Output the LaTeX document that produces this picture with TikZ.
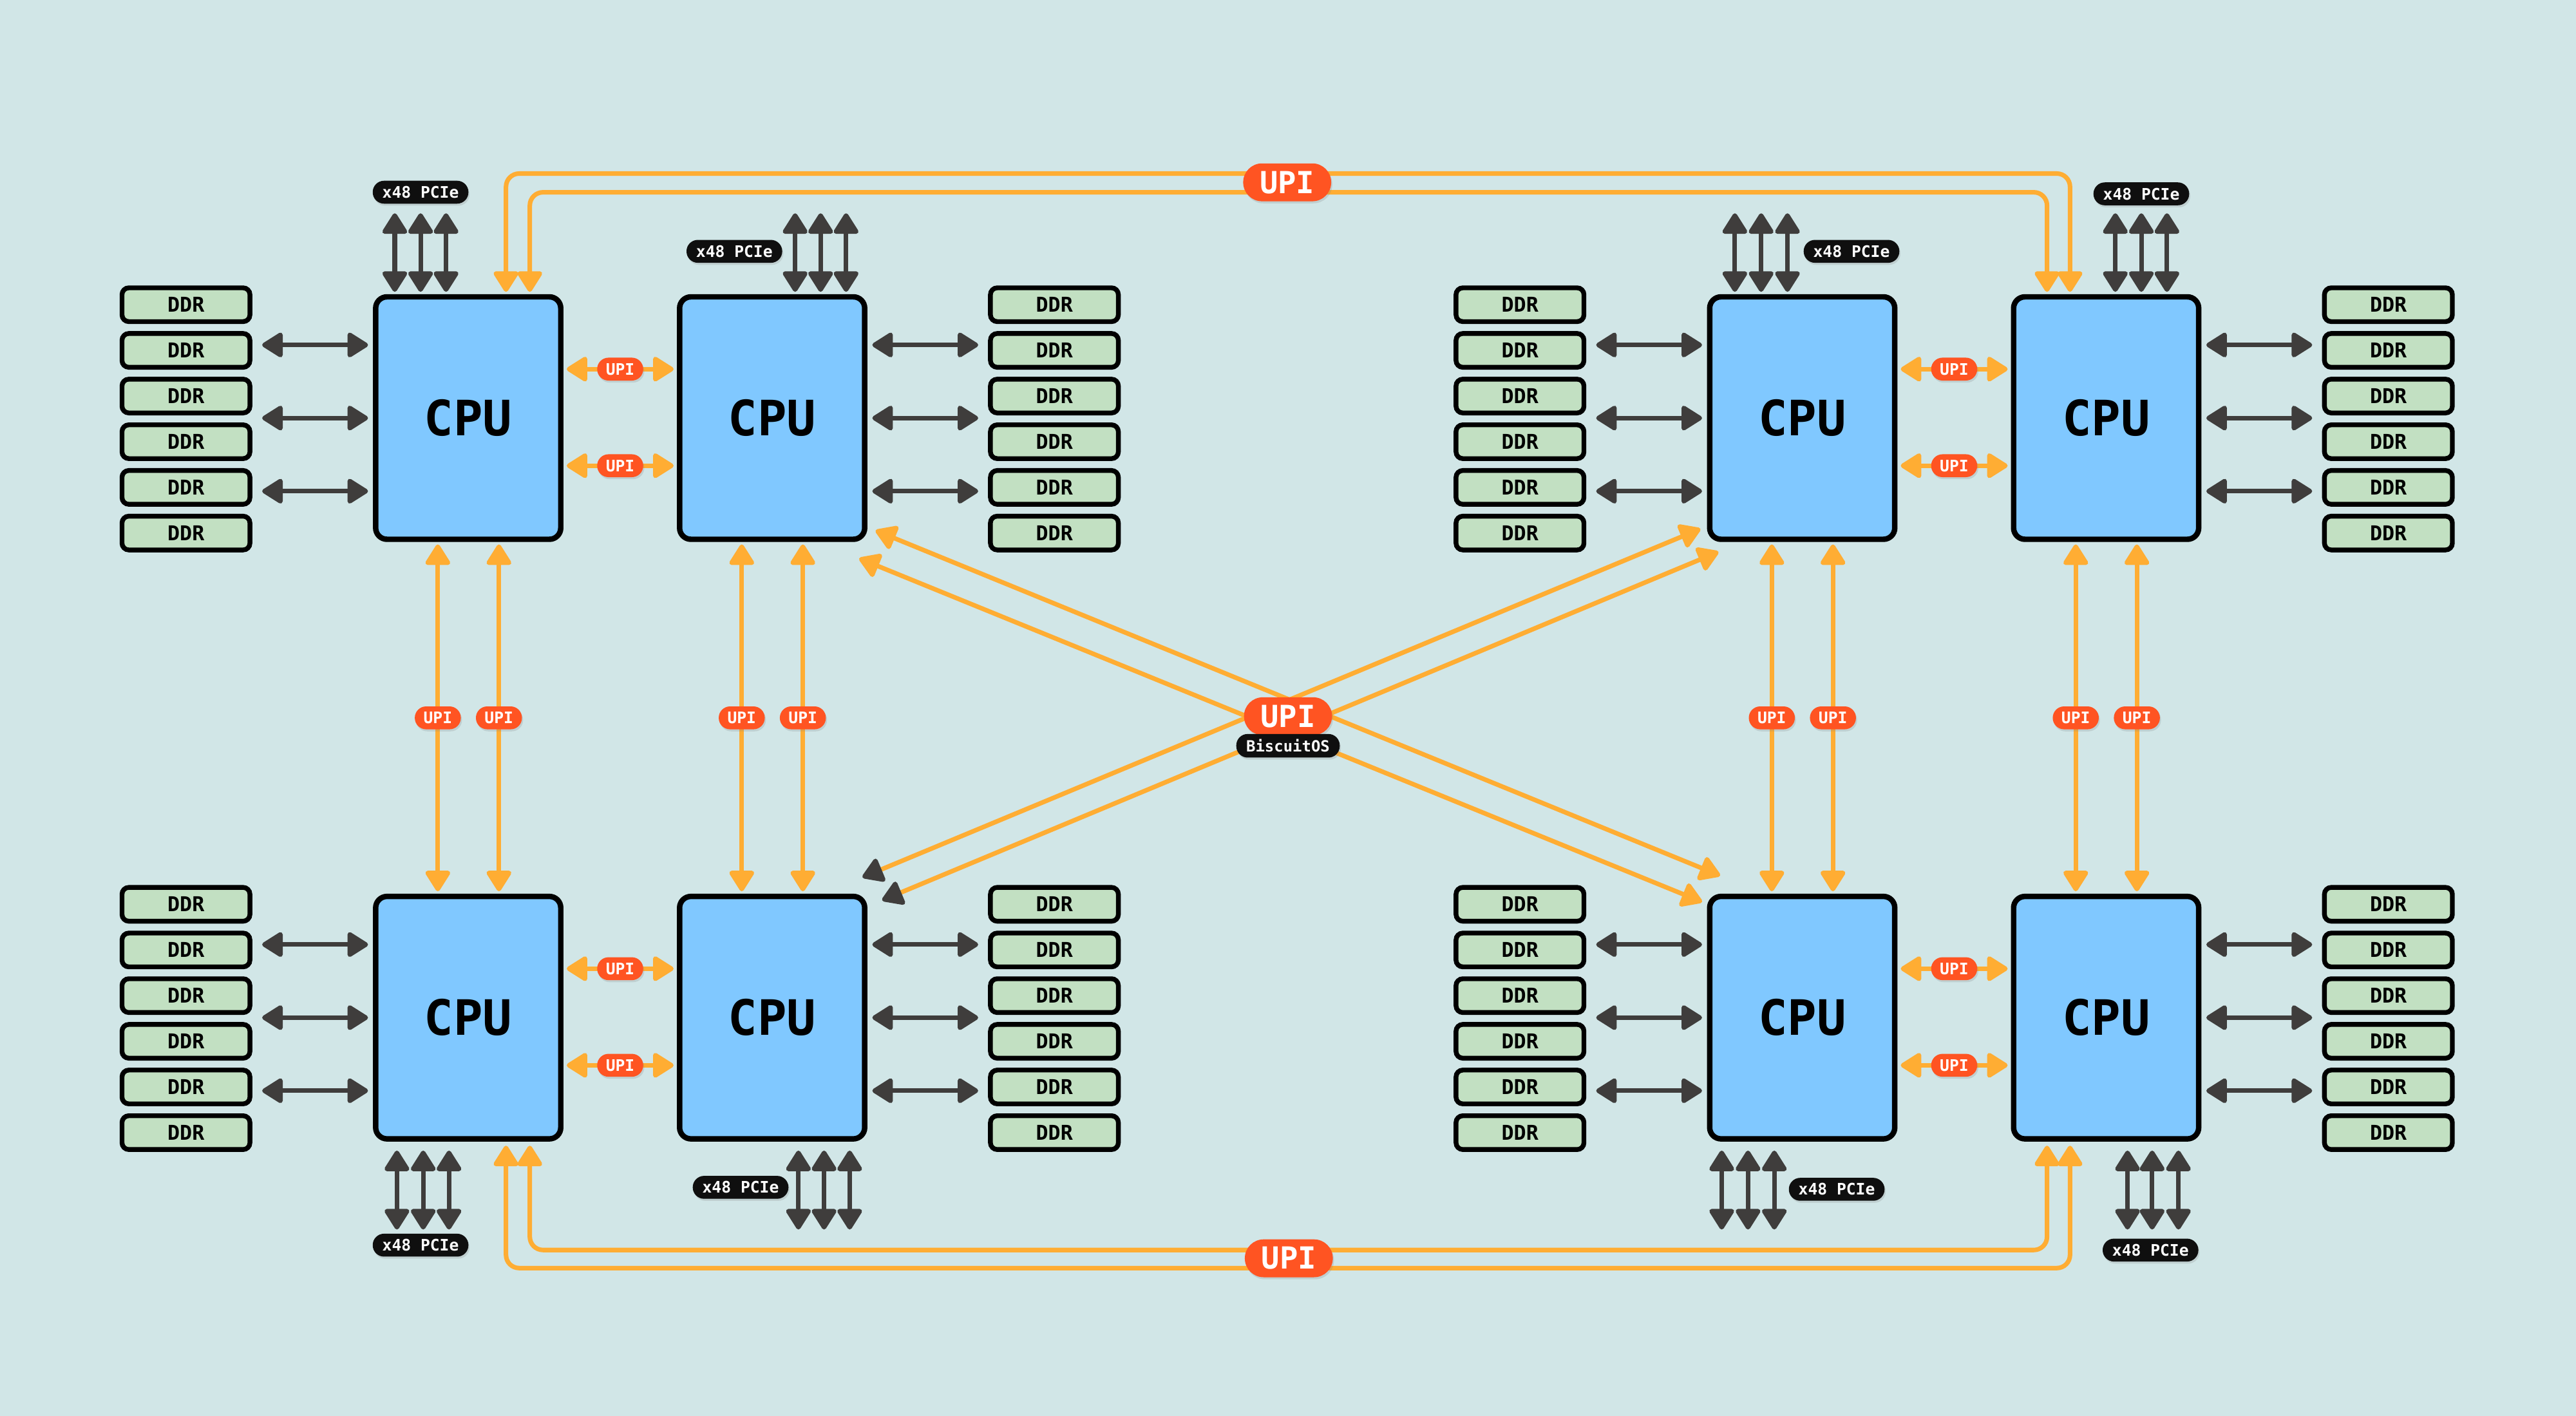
\documentclass[tikz,border=0pt]{standalone}
\usepackage{fontspec}
\setmonofont{DejaVu Sans Mono}
\usetikzlibrary{arrows.meta,calc,shadows}

\definecolor{bgc}{HTML}{D1E6E7}
\definecolor{cpufill}{HTML}{80C8FF}
\definecolor{ddrfill}{HTML}{C2E0C2}
\definecolor{upiline}{HTML}{FFAD33}
\definecolor{upired}{HTML}{FF5422}
\definecolor{darkline}{HTML}{3F3D3C}
\definecolor{tagblack}{HTML}{0F0F0F}

\tikzset{
  >={Triangle[round,length=10pt,width=12pt]},
  soft/.style={drop shadow={opacity=0.22,shadow xshift=0.5pt,shadow yshift=-0.9pt}},
  cpu/.style={draw=black,line width=2.4pt,fill=cpufill,rounded corners=5pt,
    minimum width=81.6pt,minimum height=106.9pt,inner sep=0pt,soft,
    font=\ttfamily\bfseries\fontsize{21.5}{21.5}\selectfont},
  ddr/.style={draw=black,line width=2.1pt,fill=ddrfill,rounded corners=3pt,
    minimum width=56.4pt,minimum height=14.9pt,inner sep=0pt,soft,
    font=\ttfamily\bfseries\fontsize{9}{9}\selectfont},
  memlink/.style={<->,draw=darkline,line width=2pt},
  upilink/.style={<->,draw=upiline,line width=2pt},
  upitag/.style={fill=upired,text=white,rounded corners=5pt,soft,
    minimum width=20.3pt,minimum height=10.1pt,inner sep=0pt,
    font=\ttfamily\bfseries\fontsize{7}{7}\selectfont},
  bigtag/.style={fill=upired,text=white,rounded corners=8.3pt,soft,
    minimum width=38.8pt,minimum height=16.7pt,inner sep=0pt,
    font=\ttfamily\bfseries\fontsize{13.4}{13.4}\selectfont},
  blacktag/.style={fill=tagblack,text=white,rounded corners=5pt,soft,
    minimum height=10.1pt,inner sep=0pt,
    font=\ttfamily\bfseries\fontsize{7}{7}\selectfont},
}

\begin{document}
\begin{tikzpicture}[x=0.7243pt,y=-0.7243pt]
  % canvas
  \fill[bgc] (0,0) rectangle (1568,862);
  \useasboundingbox (0,0) rectangle (1568,862);

  % processors
  \foreach \n/\px/\py in {tl1/285/254.5,tl2/470/254.5,tr1/1097/254.5,tr2/1282/254.5,
                          bl1/285/619.5,bl2/470/619.5,br1/1097/619.5,br2/1282/619.5}
    \node[cpu] (\n) at (\px,\py) {CPU};

  % memory modules and memory links
  \foreach \cp/\sd in {tl1/-1,tr1/-1,bl1/-1,br1/-1} {
    \foreach \k in {0,...,5}
      \node[ddr] (\cp-d\k) at ($(\cp)+(\sd*171.8,-69+27.8*\k)$) {DDR};
    \foreach \o in {-44.5,0,44.5}
      \draw[memlink] ($(\cp-d0.east |- \cp.center)+(6,\o)$) -- ($(\cp.west)+(-3,\o)$);
  }
  \foreach \cp/\sd in {tl2/1,tr2/1,bl2/1,br2/1} {
    \foreach \k in {0,...,5}
      \node[ddr] (\cp-d\k) at ($(\cp)+(\sd*171.8,-69+27.8*\k)$) {DDR};
    \foreach \o in {-44.5,0,44.5}
      \draw[memlink] ($(\cp.east)+(3,\o)$) -- ($(\cp-d0.west |- \cp.center)+(-6,\o)$);
  }

  % PCIe lanes on top
  \foreach \cp/\a/\b/\c/\lx/\ly in {tl1/-44.7/-29/-13.5/-29/-137.5,
                                    tl2/14/29.5/45/-23/-101.5,
                                    tr1/-41/-25/-9/30/-101.5,
                                    tr2/5.6/21.4/37/21.4/-136.5} {
    \foreach \d [count=\i] in {\a,\b,\c} {
      \coordinate (\cp-p\i) at ($(\cp.north)+(\d,-49.2)$);
      \draw[memlink] (\cp-p\i) -- ($(\cp.north)+(\d,-1.4)$);
    }
    \node[blacktag,minimum width=42.2pt] (\cp-pcie) at ($(\cp)+(\lx,\ly)$) {x48 PCIe};
  }
  % PCIe lanes below
  \foreach \cp/\a/\b/\c/\lx/\ly in {bl1/-43.4/-27.4/-11.7/-29/138.5,
                                    bl2/16/31.6/47.2/-19.2/103.3,
                                    br1/-49/-33/-17/21/104.5,
                                    br2/13/28/44/27/141.5} {
    \foreach \d [count=\i] in {\a,\b,\c} {
      \coordinate (\cp-p\i) at ($(\cp.south)+(\d,53.5)$);
      \draw[memlink] ($(\cp.south)+(\d,5.5)$) -- (\cp-p\i);
    }
    \node[blacktag,minimum width=42.2pt] (\cp-pcie) at ($(\cp)+(\lx,\ly)$) {x48 PCIe};
  }

  % UPI between neighbouring processors
  \foreach \l/\r in {tl1/tl2,tr1/tr2,bl1/bl2,br1/br2}
    \foreach \o in {-29.8,29}
      \draw[upilink] ($(\l.east)+(2,\o)$) -- node[upitag]{UPI} ($(\r.west)+(-2,\o)$);

  % UPI between upper and lower processors
  \foreach \t/\b in {tl1/bl1,tl2/bl2,tr1/br1,tr2/br2}
    \foreach \o in {-18.5,18.7}
      \draw[upilink] ($(\t.south)+(\o,1.5)$) -- node[upitag]{UPI} ($(\b.north)+(\o,-1.5)$);

  % long UPI loops over the top and under the bottom
  \draw[upilink,rounded corners=5.8pt] ($(tl1.north)+(23,-1.4)$) |- ($(tr2.north)+(-22,-73.4)$) -- ($(tr2.north)+(-22,-1.4)$);
  \draw[upilink,rounded corners=5.8pt] ($(tl1.north)+(37.5,-1.4)$) |- ($(tr2.north)+(-36,-62)$) -- ($(tr2.north)+(-36,-1.4)$);
  \draw[upilink,rounded corners=5.8pt] ($(bl1.south)+(23,2.5)$) |- ($(br2.south)+(-22,77)$) -- ($(br2.south)+(-22,2.5)$);
  \draw[upilink,rounded corners=5.8pt] ($(bl1.south)+(37.5,2.5)$) |- ($(br2.south)+(-36,66)$) -- ($(br2.south)+(-36,2.5)$);
  \node[bigtag] (upitop) at (783.5,111) {UPI};
  \node[bigtag] (upibot) at (784.5,766) {UPI};

  % diagonal UPI links
  \draw[upilink] ($(tl2.south east)+(5,-7)$) -- ($(br1.north west)+(8,-11)$);
  \draw[upilink] ($(tl2.south east)+(-5,10)$) -- ($(br1.north west)+(-3,5)$);
  \draw[upilink,arrows={Triangle[round,length=10pt,width=12pt]-Triangle[round,length=10pt,width=12pt,color=darkline]}]
    ($(tr1.south west)+(-4,-8)$) -- ($(bl2.north east)+(-3,-10)$);
  \draw[upilink,arrows={Triangle[round,length=10pt,width=12pt]-Triangle[round,length=10pt,width=12pt,color=darkline]}]
    ($(tr1.south west)+(7,6)$) -- ($(bl2.north east)+(9,4)$);
  \node[bigtag] (upimid) at (784,436) {UPI};
  \node[blacktag,minimum width=45.6pt,minimum height=10.4pt,
        font=\ttfamily\bfseries\fontsize{6.8}{6.8}\selectfont] (brand) at (784,454) {BiscuitOS};
\end{tikzpicture}
\end{document}
